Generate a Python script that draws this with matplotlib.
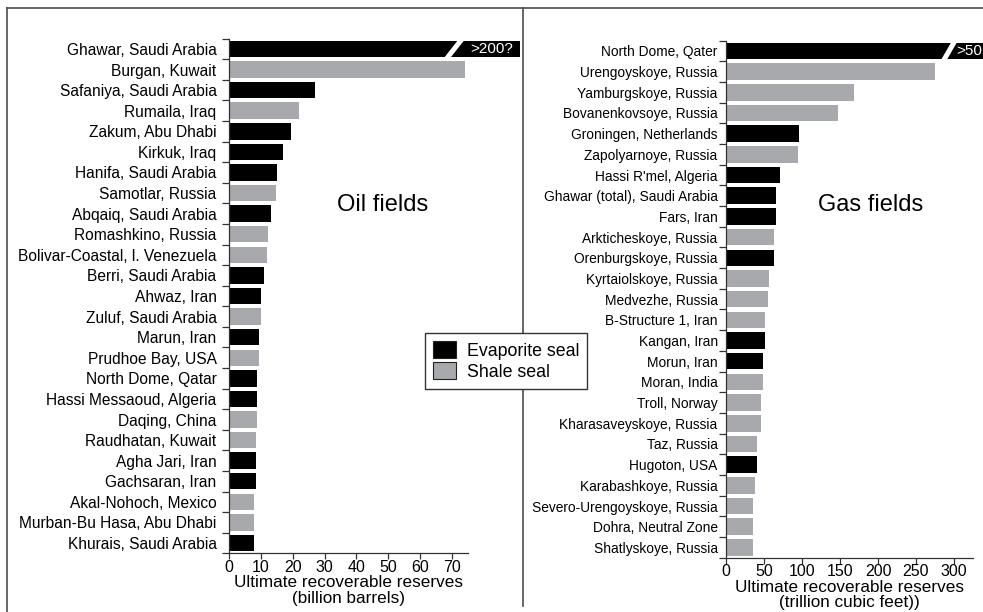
"""Giant oil and gas fields by ultimate recoverable reserves, split by seal type."""
import matplotlib
matplotlib.use("Agg")
import matplotlib.pyplot as plt
from matplotlib.lines import Line2D
from matplotlib.patches import Patch
import numpy as np

plt.rcParams["font.family"] = ["Liberation Sans", "DejaVu Sans"]

EVAP = "#000000"
SHALE = "#a8a9ad"

# oil fields (billion barrels); first entry is the broken ">200?" bar
OIL_FIELDS = [
    "Ghawar, Saudi Arabia", "Burgan, Kuwait", "Safaniya, Saudi Arabia", "Rumaila, Iraq",
    "Zakum, Abu Dhabi", "Kirkuk, Iraq", "Hanifa, Saudi Arabia", "Samotlar, Russia",
    "Abqaiq, Saudi Arabia", "Romashkino, Russia", "Bolivar-Coastal, l. Venezuela",
    "Berri, Saudi Arabia", "Ahwaz, Iran", "Zuluf, Saudi Arabia", "Marun, Iran",
    "Prudhoe Bay, USA", "North Dome, Qatar", "Hassi Messaoud, Algeria", "Daqing, China",
    "Raudhatan, Kuwait", "Agha Jari, Iran", "Gachsaran, Iran", "Akal-Nohoch, Mexico",
    "Murban-Bu Hasa, Abu Dhabi", "Khurais, Saudi Arabia",
]
OIL_VALUES = [200, 74.2, 27.1, 22.0, 19.3, 16.8, 15.1, 14.9, 13.2, 12.1, 11.8, 11.0,
              9.9, 9.9, 9.4, 9.4, 8.8, 8.8, 8.8, 8.6, 8.6, 8.4, 7.7, 7.7, 7.7]
OIL_SEAL = ["E", "S", "E", "S", "E", "E", "E", "S", "E", "S", "S", "E", "E", "S", "E",
            "S", "E", "E", "S", "S", "E", "E", "S", "S", "E"]

# gas fields (trillion cubic feet); first entry is the broken ">500" bar
GAS_FIELDS = [
    "North Dome, Qater", "Urengoyskoye, Russia", "Yamburgskoye, Russia",
    "Bovanenkovsoye, Russia", "Groningen, Netherlands", "Zapolyarnoye, Russia",
    "Hassi R'mel, Algeria", "Ghawar (total), Saudi Arabia", "Fars, Iran",
    "Arkticheskoye, Russia", "Orenburgskoye, Russia", "Kyrtaiolskoye, Russia",
    "Medvezhe, Russia", "B-Structure 1, Iran", "Kangan, Iran", "Morun, Iran",
    "Moran, India", "Troll, Norway", "Kharasaveyskoye, Russia", "Taz, Russia",
    "Hugoton, USA", "Karabashkoye, Russia", "Severo-Urengoyskoye, Russia",
    "Dohra, Neutral Zone", "Shatlyskoye, Russia",
]
GAS_VALUES = [500, 275, 168, 147, 96, 95, 71, 65.8, 65.8, 63.6, 63.6, 56.1, 54.8, 51.3,
              51.3, 49.1, 49.1, 46.0, 46.0, 40.8, 40.8, 37.7, 35.5, 35.5, 35.5]
GAS_SEAL = ["E", "S", "S", "S", "E", "S", "E", "E", "E", "S", "E", "S", "S", "S", "E",
            "E", "S", "S", "S", "S", "E", "S", "S", "S", "S"]


def panel(ax, names, values, seals, xmax, xticks, cap, brk, label, text_x, title,
          label_size, label_pad):
    n = len(names)
    y = np.arange(n)
    colors = [EVAP if s == "E" else SHALE for s in seals]
    shown = [min(v, cap) for v in values]
    bars = ax.barh(y, shown, height=0.8, color=colors, edgecolor="none")
    bars[0].set_clip_on(False)
    # break mark on the off-scale bar
    (bx0, by0), (bx1, by1) = brk
    ax.plot([bx0, bx1], [by0, by1], color="white", lw=3.6, clip_on=False,
            solid_capstyle="butt", zorder=5)
    ax.text(text_x, 0, label, color="white", fontsize=11, va="center", ha="left",
            clip_on=False, zorder=6)

    ax.set_xlim(0, xmax)
    ax.set_ylim(n - 1 + 0.42, -0.5)
    ax.set_yticks(y)
    ax.set_yticklabels(names, fontsize=label_size)
    ax.set_yticks(np.arange(n + 1) - 0.5, minor=True)
    ax.tick_params(axis="y", which="major", length=0, pad=label_pad)
    ax.tick_params(axis="y", which="minor", length=5, width=0.9, color="#333333")
    ax.set_xticks(xticks)
    ax.tick_params(axis="x", length=4, width=0.9, color="#333333", labelsize=11.5, pad=0.5)
    ax.set_xlabel(title, fontsize=12.3, labelpad=0.5, linespacing=1.05)
    for side in ("top", "right"):
        ax.spines[side].set_visible(False)
    for side in ("left", "bottom"):
        ax.spines[side].set_color("#333333")
        ax.spines[side].set_linewidth(0.9)


def main() -> None:
    fig = plt.figure(figsize=(9.83, 6.12), dpi=100)

    ax_oil = fig.add_axes([0.233, 0.0959, 0.243, 0.8409])
    panel(ax_oil, OIL_FIELDS, OIL_VALUES, OIL_SEAL, 75, range(0, 71, 10), 91.2,
          ((68.0, 0.53), (74.6, -0.77)), ">200?", 75.8,
          "Ultimate recoverable reserves\n(billion barrels)", 11.2, 9)

    ax_gas = fig.add_axes([0.7386, 0.0887, 0.2512, 0.8450])
    panel(ax_gas, GAS_FIELDS, GAS_VALUES, GAS_SEAL, 325, range(0, 301, 50), 345,
          ((286, 0.48), (310, -1.04)), ">50", 303,
          "Ultimate recoverable reserves\n(trillion cubic feet))", 9.9, 6)

    fig.text(0.389, 0.665, "Oil fields", fontsize=17, ha="center", va="center")
    fig.text(0.886, 0.665, "Gas fields", fontsize=17, ha="center", va="center")

    # outer frame and divider
    frame = dict(color="#4d4d4d", lw=1.2, transform=fig.transFigure)
    fig.add_artist(Line2D([0.0071, 0.0071], [0.0, 0.987], **frame))
    fig.add_artist(Line2D([0.0071, 1.0], [0.987, 0.987], **frame))
    fig.add_artist(Line2D([0.532, 0.532], [0.009, 0.987], **frame))

    handles = [Patch(facecolor=EVAP, edgecolor="#222222", lw=0.8),
               Patch(facecolor=SHALE, edgecolor="#222222", lw=0.8)]
    leg = fig.legend(handles, ["Evaporite seal", "Shale seal"], loc="upper left",
                     bbox_to_anchor=(0.4323, 0.4559), fontsize=12.8, fancybox=False,
                     framealpha=1, edgecolor="#333333", handlelength=1.3,
                     handleheight=1.1, handletextpad=0.6, borderpad=0.45,
                     labelspacing=0.15, borderaxespad=0)
    leg.get_frame().set_linewidth(1.0)
    leg.set_zorder(10)

    fig.savefig("out.png", dpi=100)


if __name__ == "__main__":
    main()
